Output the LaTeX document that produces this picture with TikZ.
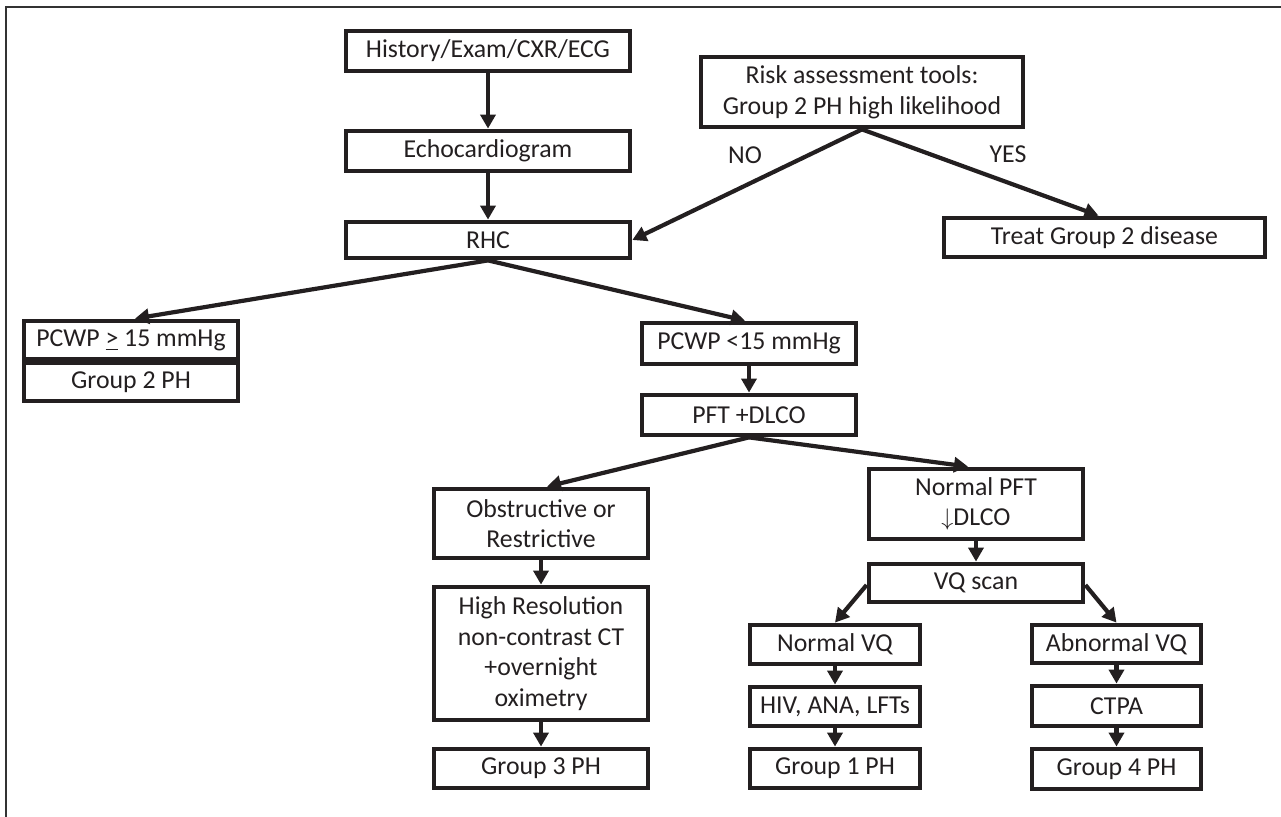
\documentclass[tikz,border=0pt]{standalone}
\usepackage{fontspec}
\setmainfont{Carlito}
\usetikzlibrary{arrows.meta}
\definecolor{ink}{HTML}{231F20}
\definecolor{frame}{HTML}{333333}
\begin{document}
\begin{tikzpicture}[x=0.5pt,y=-0.5pt,
  box/.style={draw=ink, line width=2.4pt, inner sep=0pt, align=center, text=ink,
    font=\fontsize{12.9}{15.3}\selectfont},
  arr/.style={draw=ink, line width=2.1pt, -{Triangle[length=7pt,width=7.5pt]}},
  lbl/.style={text=ink, inner sep=0pt, font=\fontsize{12.9}{15.3}\selectfont}]
\useasboundingbox (0,0) rectangle (1281,817);
% frame (top and left only)
\coordinate (fa) at (6,817);
\coordinate (fb) at (6,7);
\coordinate (fc) at (1281,7);
\draw[frame, line width=1.1pt] (fa) -- (fb) -- (fc);
% top column
\node[box, minimum width=142pt, minimum height=20pt] (hist) at (488,51) {History/Exam/CXR/ECG};
\node[box, minimum width=142pt, minimum height=20pt] (echo) at (488,151) {Echocardiogram};
\node[box, minimum width=142pt, minimum height=18pt] (rhc) at (488,240) {RHC};
\node[box, minimum width=161pt, minimum height=35pt] (risk) at (862,92) {Risk assessment tools:\\Group 2 PH high likelihood};
\node[box, minimum width=160.5pt, minimum height=19.5pt] (treat) at (1104.5,237.5) {Treat Group 2 disease};
% second level
\node[box, minimum width=107pt, minimum height=19pt] (pcwphi) at (131,340) {PCWP \underline{>} 15 mmHg};
\node[box, minimum width=107pt, minimum height=19pt] (g2) at (131,382) {Group 2 PH};
\node[box, minimum width=107pt, minimum height=20.5pt] (pcwplo) at (749,343.5) {PCWP <15 mmHg};
\node[box, minimum width=107pt, minimum height=20pt] (pft) at (749,415) {PFT +DLCO};
% left branch
\node[box, minimum width=107pt, minimum height=34.5pt] (obst) at (541,523.5) {Obstructive or\\Restrictive};
\node[box, minimum width=107pt, minimum height=66.5pt] (hr) at (541,653.5) {High Resolution\\non-contrast CT\\+overnight\\oximetry};
\node[box, minimum width=107pt, minimum height=19.5pt] (g3) at (541,768.5) {Group 3 PH};
% right branch
\node[box, minimum width=107pt, minimum height=35pt] (npft) at (976,504) {Normal PFT\\$\downarrow$DLCO};
\node[box, minimum width=107pt, minimum height=19pt] (vq) at (976,583) {VQ scan};
\node[box, minimum width=85pt, minimum height=19.5pt] (nvq) at (835,644.5) {Normal VQ};
\node[box, minimum width=85pt, minimum height=19.5pt] (hiv) at (835,706.5) {HIV, ANA, LFTs};
\node[box, minimum width=85pt, minimum height=19.5pt] (g1) at (835,768.5) {Group 1 PH};
\node[box, minimum width=84.5pt, minimum height=19pt] (avq) at (1116.5,644) {Abnormal VQ};
\node[box, minimum width=84.5pt, minimum height=20pt] (ctpa) at (1116.5,706) {CTPA};
\node[box, minimum width=84.5pt, minimum height=20pt] (g4) at (1116.5,769) {Group 4 PH};
% labels
\node[lbl] (no) at (745,155) {NO};
\node[lbl] (yes) at (1008,154) {YES};
% connectors
\draw[arr] (hist.south) -- (echo.north);
\draw[arr] (echo.south) -- (rhc.north);
\draw[arr] (risk.south) -- (rhc.east);
\draw[arr] (risk.south) -- ([xshift=-3pt]treat.north);
\draw[arr] (rhc.south) -- ([xshift=2pt]pcwphi.north);
\draw[arr] (rhc.south) -- ([xshift=-2pt]pcwplo.north);
\draw[arr] (pcwplo.south) -- (pft.north);
\draw[arr] (pft.south) -- ([xshift=3pt]obst.north);
\draw[arr] (pft.south) -- ([xshift=-4pt]npft.north);
\draw[arr] (obst.south) -- (hr.north);
\draw[arr] (hr.south) -- (g3.north);
\draw[arr] (npft.south) -- (vq.north);
\draw[arr] ([yshift=-1pt]vq.west) -- (nvq.north);
\draw[arr] ([yshift=-1pt]vq.east) -- (avq.north);
\draw[arr] (nvq.south) -- (hiv.north);
\draw[arr] (hiv.south) -- (g1.north);
\draw[arr] (avq.south) -- (ctpa.north);
\draw[arr] (ctpa.south) -- (g4.north);
\end{tikzpicture}
\end{document}
